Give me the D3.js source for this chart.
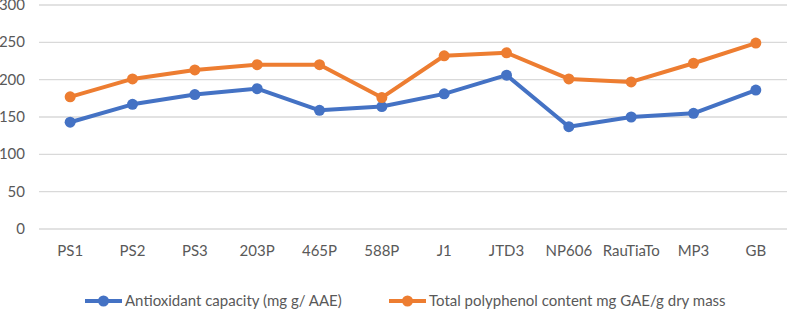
<!DOCTYPE html>
<html><head><meta charset="utf-8">
<script src="https://cdn.jsdelivr.net/npm/d3@7"></script>
<style>body{margin:0;background:#fff}svg{display:block;font-family:Lato,"Open Sans",sans-serif}</style>
</head><body><svg id="c" width="787" height="309"></svg>
<script>
const categories = ["PS1","PS2","PS3","203P","465P","588P","J1","JTD3","NP606","RauTiaTo","MP3","GB"];
const antioxidant = [143,167,180,188,159,164,181,206,137,150,155,186];
const polyphenol = [177,201,213,220,220,176,232,236,201,197,222,249];
const yTicks = [0,50,100,150,200,250,300];
const seriesNames = ["Antioxidant capacity (mg g/ AAE)","Total polyphenol content mg GAE/g dry mass"];
const colors = ["#4472C4","#ED7D31"];

const svg = d3.select("#c");
const x = d3.scaleBand().domain(categories).range([39,787]);
const y = d3.scaleLinear().domain([0,300]).range([229,5]);

svg.append("g").selectAll("line").data(yTicks).join("line")
  .attr("x1",39).attr("x2",787).attr("y1",d=>y(d)).attr("y2",d=>y(d))
  .attr("stroke","#d9d9d9").attr("stroke-width",1.3);
svg.append("g").selectAll("text").data(yTicks).join("text")
  .attr("x",25).attr("y",d=>y(d)+5).attr("text-anchor","end")
  .attr("fill","#595959").attr("font-size",15).text(d=>d);
svg.append("g").selectAll("text").data(categories).join("text")
  .attr("x",d=>x(d)+x.bandwidth()/2).attr("y",256).attr("text-anchor","middle")
  .attr("fill","#595959").attr("font-size",15).text(d=>d);

const line = d3.line().x((d,i)=>x(categories[i])+x.bandwidth()/2).y(d=>y(d));
[antioxidant,polyphenol].forEach((s,k)=>{
  const g = svg.append("g");
  g.append("path").datum(s).attr("d",line).attr("fill","none")
    .attr("stroke",colors[k]).attr("stroke-width",4).attr("stroke-linejoin","round");
  g.selectAll("circle").data(s).join("circle")
    .attr("cx",(d,i)=>x(categories[i])+x.bandwidth()/2).attr("cy",d=>y(d))
    .attr("r",5.5).attr("fill",colors[k]);
});

const legendX = [85,389];
seriesNames.forEach((n,k)=>{
  const g = svg.append("g").attr("transform",`translate(${legendX[k]},301)`);
  g.append("line").attr("x1",0).attr("x2",37).attr("stroke",colors[k]).attr("stroke-width",4);
  g.append("circle").attr("cx",18.5).attr("r",5.5).attr("fill",colors[k]);
  g.append("text").attr("x",40).attr("y",5).attr("fill","#595959").attr("font-size",15).text(n);
});
</script></body></html>
